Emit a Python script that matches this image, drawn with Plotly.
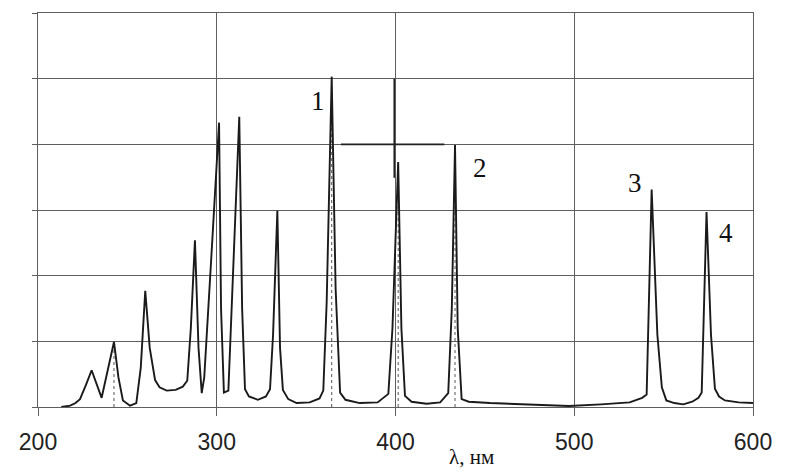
import plotly.graph_objects as go

# Spectrum trace (wavelength, nm ; relative intensity in grid units)
wavelength = [213, 218, 221, 223.5, 227, 230, 235.6, 239, 242.5, 245, 247.5, 251.5, 255, 257.5, 260,
              262.5, 265.5, 268, 272, 277, 281, 283.5, 285.5, 287.8, 289.8, 291.6, 293,
              297, 301.3, 302.4, 304, 306.5, 309.2, 312.6, 314.2, 315.8, 318, 323, 327.5,
              329.8, 331.5, 333.9, 335.4, 337, 340, 344.7, 352, 357.5, 359.6, 361.5, 364.3,
              366.5, 369, 372, 380, 390, 396, 398.3, 401.5, 403.3, 405.3, 409, 417.4,
              425, 429.5, 431.5, 433.3, 434.8, 437, 441, 452.9, 470, 497, 515, 531, 538,
              540.5, 543.3, 546.5, 549, 551.5, 556, 561, 566, 569.5, 571.3, 574, 576.5,
              578.7, 581, 584.3, 592, 600]
intensity = [0.0, 0.02, 0.06, 0.12, 0.35, 0.56, 0.14, 0.55, 0.99, 0.45, 0.1, 0.02, 0.06, 0.6, 1.77,
             0.9, 0.41, 0.3, 0.25, 0.26, 0.31, 0.4, 1.2, 2.54, 0.9, 0.21, 0.45,
             2.3, 4.33, 1.5, 0.22, 0.25, 1.98, 4.42, 1.5, 0.27, 0.16, 0.11, 0.16,
             0.27, 1.1, 2.99, 0.9, 0.26, 0.12, 0.06, 0.07, 0.13, 0.25, 1.6, 5.03,
             1.8, 0.22, 0.11, 0.06, 0.07, 0.2, 1.2, 3.73, 1.2, 0.17, 0.08, 0.05,
             0.07, 0.21, 1.5, 3.99, 1.2, 0.12, 0.08, 0.06, 0.04, 0.015, 0.04, 0.07, 0.14,
             0.19, 3.31, 1.1, 0.3, 0.1, 0.06, 0.04, 0.08, 0.14, 0.22, 2.97, 1.1,
             0.28, 0.16, 0.1, 0.07, 0.06]

# Dotted reference lines under selected peaks
marked_peaks = [242.5, 364.3, 401.5, 433.3]
marked_heights = [0.99, 5.03, 3.73, 3.99]

# Line labels
label_text = ["1", "2", "3", "4"]
label_x = [356.6, 447.0, 534.0, 584.9]
label_y = [4.66, 3.64, 3.41, 2.65]

x_ticks = [200, 300, 400, 500, 600]
y_grid = [0, 1, 2, 3, 4, 5, 6]

GRID = "#5e5e5e"
INK = "#1a1a1a"

fig = go.Figure()

for px, h in zip(marked_peaks, marked_heights):
    fig.add_trace(go.Scatter(x=[px, px], y=[0, h], mode="lines",
                             line=dict(color="#555555", width=1, dash="dot"),
                             hoverinfo="skip", showlegend=False))

fig.add_trace(go.Scatter(x=wavelength, y=intensity, mode="lines",
                         line=dict(color=INK, width=1.9),
                         showlegend=False))

# dark stroke artefacts in the source image
fig.add_shape(type="line", xref="x", yref="y", x0=369.5, x1=427.3, y0=4, y1=4,
              line=dict(color="#222222", width=1.6))
fig.add_shape(type="line", xref="x", yref="y", x0=399.3, x1=399.3, y0=5.0, y1=3.49,
              line=dict(color="#222222", width=1.6))

for t, lx, ly in zip(label_text, label_x, label_y):
    fig.add_annotation(x=lx, y=ly, text=t, showarrow=False, xanchor="center", yanchor="middle",
                       font=dict(family="Liberation Serif", size=27, color="#111111"))

fig.add_annotation(xref="paper", yref="paper", x=0.6056, y=-0.127, text="λ, нм",
                   showarrow=False, xanchor="center", yanchor="middle",
                   font=dict(family="Liberation Serif", size=21, color="#111111"))

fig.update_xaxes(range=[200, 600], tickvals=x_ticks, ticktext=[str(v) for v in x_ticks],
                 showgrid=True, gridcolor=GRID, gridwidth=1.2,
                 showline=True, linecolor=GRID, linewidth=1.2, mirror=True,
                 ticks="outside", ticklen=8, tickcolor=GRID, tickwidth=1.2,
                 ticklabelstandoff=6,
                 tickfont=dict(family="Liberation Sans", size=23, color="#222222"),
                 zeroline=False)
fig.update_yaxes(range=[0, 6], tickvals=y_grid, showticklabels=False,
                 showgrid=True, gridcolor=GRID, gridwidth=1.2,
                 showline=True, linecolor=GRID, linewidth=1.2, mirror=True,
                 ticks="outside", ticklen=5, tickcolor=GRID, tickwidth=1.2,
                 zeroline=False)

fig.update_layout(width=794, height=473,
                  margin=dict(l=38, r=41, t=13, b=66),
                  plot_bgcolor="white", paper_bgcolor="white",
                  showlegend=False)

fig.write_html("out.html")
